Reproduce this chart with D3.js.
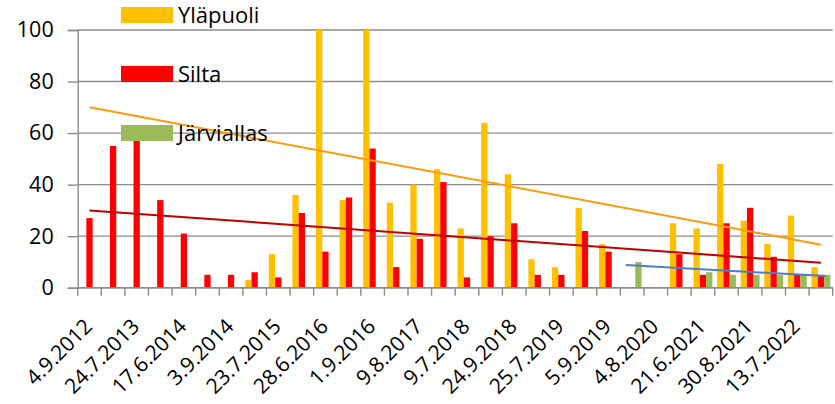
<!DOCTYPE html>
<html>
<head>
<meta charset="utf-8">
<script src="https://cdn.jsdelivr.net/npm/d3@7"></script>
<style>
  body { margin: 0; background: #fff; }
  svg text { font-family: "Open Sans", sans-serif; fill: #000; }
</style>
</head>
<body>
<div id="chart"></div>
<script>
// categories: every other date is hidden on the axis in the original, so those stay blank
var categories = [
  "4.9.2012", "", "24.7.2013", "", "17.6.2014", "", "3.9.2014", "",
  "23.7.2015", "", "28.6.2016", "", "1.9.2016", "", "9.8.2017", "",
  "9.7.2018", "", "24.9.2018", "", "25.7.2019", "", "5.9.2019", "",
  "4.8.2020", "", "21.6.2021", "", "30.8.2021", "", "13.7.2022", ""
];

var seriesNames = ["Yläpuoli", "Silta", "Järviallas"];

var ylapuoli = [null, null, null, null, null, null, null, 3,
  13, 36, 100, 34, 100, 33, 40, 46,
  23, 64, 44, 11, 8, 31, 17, null,
  null, 25, 23, 48, 26, 17, 28, 8];

var silta = [27, 55, 60, 34, 21, 5, 5, 6,
  4, 29, 14, 35, 54, 8, 19, 41,
  4, 20, 25, 5, 5, 22, 14, null,
  null, 13, 5, 25, 31, 12, 5, 5];

var jarviallas = [null, null, null, null, null, null, null, null,
  null, null, null, null, null, null, null, null,
  null, null, null, null, null, null, null, 10,
  null, null, 6, 5, 5, 5, 5, 5];

// linear trend lines: [category position, value] at start and end
var trendYlapuoli = [[0, 70], [31, 16.7]];
var trendSilta = [[0, 30], [31, 9.7]];
var trendJarviallas = [[22.73, 8.8], [31.2, 4.5]];

var yTicks = [0, 20, 40, 60, 80, 100];

var width = 835,
    height = 404;

// note: "top" is a reserved window prop, hence the plot* names
var plotLeft = 77.7, plotRight = 832.7,
    plotTop = 30, plotBottom = 287.7;

var barColors = ["#FFC000", "#FF0000", "#9BBB59"];
var trendColors = ["#FF9A0A", "#C00000", "#4A7EC8"];
var gridColor = "#8C8C8C";

var svg = d3.select("#chart").append("svg")
            .attr("width", width)
            .attr("height", height);

var idx = d3.range(categories.length);

var x = d3.scaleBand()
          .domain(idx)
          .range([plotLeft, plotRight])
          .paddingInner(0.2)
          .paddingOuter(0.1);

var xSub = d3.scaleBand()
             .domain([0, 1, 2])
             .range([0, x.bandwidth()]);

// category position -> pixel (center of category)
var xPos = d3.scaleLinear()
             .domain([0, categories.length - 1])
             .range([x(0) + x.bandwidth() / 2, x(categories.length - 1) + x.bandwidth() / 2]);

// category boundaries for the tick marks
var xEdge = d3.scaleLinear()
              .domain([0, categories.length])
              .range([plotLeft, plotRight]);

var y = d3.scaleLinear()
          .domain([0, 100])
          .range([plotBottom, plotTop]);

// gridlines
svg.append("g")
   .selectAll("line")
   .data(yTicks)
   .enter().append("line")
   .attr("x1", plotLeft)
   .attr("x2", plotRight)
   .attr("y1", d => y(d))
   .attr("y2", d => y(d))
   .style("stroke", gridColor)
   .style("stroke-width", 1.4);

// y axis
var yAxis = d3.axisLeft(y)
              .tickValues(yTicks)
              .tickSize(10)
              .tickPadding(14);

var yg = svg.append("g")
            .attr("transform", "translate(" + plotLeft + ",0)")
            .call(yAxis);
yg.select(".domain").style("stroke", gridColor).style("stroke-width", 1.4);
yg.selectAll(".tick line").style("stroke", gridColor).style("stroke-width", 1.4);
yg.selectAll(".tick text")
  .style("font-size", "21.5px")
  .style("font-family", "'Open Sans', sans-serif")
  .attr("fill", "#000");

// bars
var allSeries = [ylapuoli, silta, jarviallas];
allSeries.forEach(function(values, s) {
    svg.append("g")
       .selectAll("rect")
       .data(values.map((v, i) => ({i: i, v: v})).filter(d => d.v != null))
       .enter().append("rect")
       .attr("x", d => x(d.i) + xSub(s))
       .attr("y", d => y(d.v))
       .attr("width", xSub.bandwidth())
       .attr("height", d => y(0) - y(d.v))
       .attr("fill", barColors[s]);
});

// x axis line + ticks
svg.append("line")
   .attr("x1", plotLeft)
   .attr("x2", plotRight)
   .attr("y1", y(0))
   .attr("y2", y(0))
   .style("stroke", gridColor)
   .style("stroke-width", 1.4);

svg.append("g")
   .selectAll("line")
   .data(d3.range(categories.length + 1))
   .enter().append("line")
   .attr("x1", d => xEdge(d))
   .attr("x2", d => xEdge(d))
   .attr("y1", y(0))
   .attr("y2", y(0) + 8)
   .style("stroke", gridColor)
   .style("stroke-width", 1.4);

svg.append("g")
   .selectAll("text")
   .data(idx.filter(i => categories[i] !== ""))
   .enter().append("text")
   .attr("transform", d => "translate(" + (xPos(d) + 4) + "," + (y(0) + 40) + ") rotate(-45)")
   .attr("text-anchor", "end")
   .style("font-size", "21px")
   .text(d => categories[d]);

// trend lines
var trendLine = d3.line()
                  .x(d => xPos(d[0]))
                  .y(d => y(d[1]));

[trendYlapuoli, trendSilta, trendJarviallas].forEach(function(t, s) {
    svg.append("path")
       .datum(t)
       .attr("d", trendLine)
       .style("fill", "none")
       .style("stroke", trendColors[s])
       .style("stroke-width", 2);
});

// legend (sits over the plot, like the original)
var legend = svg.append("g")
                .attr("transform", "translate(121,7)");

var entry = legend.selectAll("g")
                  .data(seriesNames)
                  .enter().append("g")
                  .attr("transform", (d, i) => "translate(0," + (i * 59) + ")");

entry.append("rect")
     .attr("width", 52)
     .attr("height", 16)
     .attr("fill", (d, i) => barColors[i]);

entry.append("text")
     .attr("x", 57)
     .attr("y", 8)
     .attr("dy", "0.35em")
     .style("font-size", "22px")
     .text(d => d);
</script>
</body>
</html>
